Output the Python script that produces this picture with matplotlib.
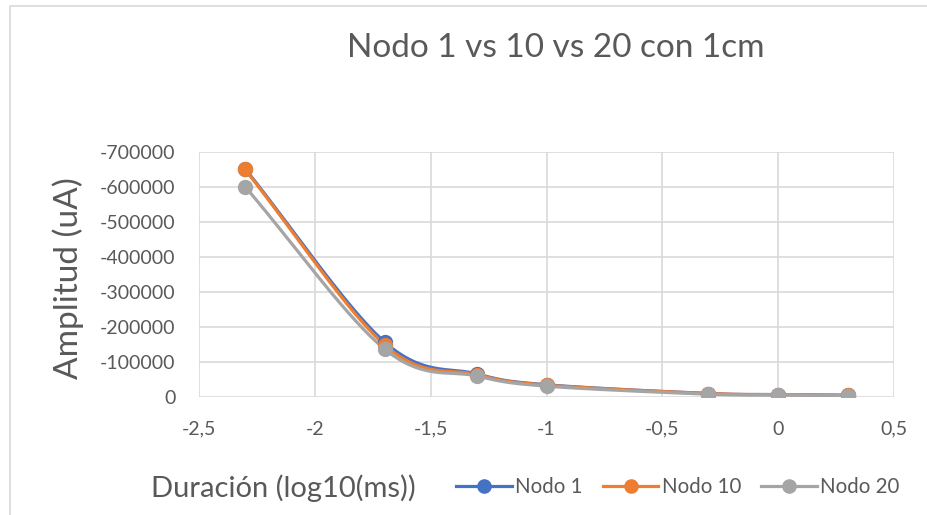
import numpy as np
import matplotlib
matplotlib.use("Agg")
import matplotlib.pyplot as plt
from matplotlib.patches import Rectangle
from matplotlib.ticker import FuncFormatter, MultipleLocator

plt.rcParams["font.family"] = ["Lato", "DejaVu Sans"]
plt.rcParams["axes.unicode_minus"] = False

# pulse duration (ms) and stimulus amplitude (uA) per node
duracion_ms = [0.005, 0.02, 0.05, 0.1, 0.5, 1, 2]
nodo1 = [-652000, -157000, -66000, -35000, -10000, -7000, -5000]
nodo10 = [-650000, -149000, -64000, -34000, -10000, -7000, -5000]
nodo20 = [-601000, -137000, -60000, -31000, -8000, -6000, -4000]
series = [("Nodo 1", nodo1, "#4472C4"),
          ("Nodo 10", nodo10, "#ED7D31"),
          ("Nodo 20", nodo20, "#A5A5A5")]

TEXT = "#595959"
GRID = "#D9D9D9"


def smooth_curve(x, y, n=40):
    """Catmull-Rom spline through the points (Excel-style smoothed line)."""
    x = np.asarray(x, float)
    y = np.asarray(y, float)
    px = np.concatenate([[2 * x[0] - x[1]], x, [2 * x[-1] - x[-2]]])
    py = np.concatenate([[2 * y[0] - y[1]], y, [2 * y[-1] - y[-2]]])
    t = np.linspace(0, 1, n)
    xs, ys = [], []
    for i in range(1, len(px) - 2):
        for p, out in ((px, xs), (py, ys)):
            p0, p1, p2, p3 = p[i - 1], p[i], p[i + 1], p[i + 2]
            out.append(0.5 * (2 * p1 + (-p0 + p2) * t
                              + (2 * p0 - 5 * p1 + 4 * p2 - p3) * t ** 2
                              + (-p0 + 3 * p1 - 3 * p2 + p3) * t ** 3))
    return np.concatenate(xs), np.concatenate(ys)


W, H = 927, 515
fig = plt.figure(figsize=(W / 100, H / 100), dpi=100)
fig.patches.append(Rectangle((10 / W, -0.1), 1.2, 1 - 6 / H + 0.1, transform=fig.transFigure,
                             fill=False, edgecolor=GRID, linewidth=1.2))

ax = fig.add_axes([199 / W, 1 - 397 / H, (894 - 199) / W, (397 - 152) / H])

x = np.log10(duracion_ms)
for name, vals, color in series:
    sx, sy = smooth_curve(x, vals)
    ax.plot(sx, sy, color=color, lw=2.3, solid_capstyle="round", zorder=3)
    ax.plot(x, vals, "o", color=color, ms=10, zorder=4)

ax.set_xlim(-2.5, 0.5)
ax.set_ylim(0, -700000)
ax.xaxis.set_major_locator(MultipleLocator(0.5))
ax.yaxis.set_major_locator(MultipleLocator(100000))
ax.xaxis.set_major_formatter(FuncFormatter(lambda v, p: f"{v:g}".replace(".", ",")))
ax.yaxis.set_major_formatter(FuncFormatter(lambda v, p: f"{v:.0f}" if v else "0"))
ax.grid(True, color=GRID, lw=1.2)
ax.set_axisbelow(True)
for s in ax.spines.values():
    s.set_visible(False)
ax.tick_params(length=0, labelsize=14, colors=TEXT)
ax.tick_params(axis="y", pad=17)
ax.tick_params(axis="x", pad=17)

fig.text(556 / W, 1 - 48 / H, "Nodo 1 vs 10 vs 20 con 1cm", ha="center", va="center",
         fontsize=24, color=TEXT)
fig.text(68 / W, 1 - 278 / H, "Amplitud (uA)", ha="center", va="center", rotation=90,
         fontsize=24, color=TEXT)
fig.text(283 / W, 1 - 488 / H, "Duración (log10(ms))", ha="center", va="center",
         fontsize=21, color=TEXT)

handles = [plt.Line2D([], [], color=c, lw=2.3, marker="o", ms=9.5) for _, _, c in series]
fig.legend(handles, [n for n, _, _ in series], loc="center left",
           bbox_to_anchor=(446 / W, 1 - 487 / H), ncol=3, frameon=False,
           fontsize=14.8, labelcolor=TEXT, handlelength=2.7, handletextpad=0.15,
           columnspacing=1.0, borderpad=0)

fig.savefig("out.png", dpi=100)
